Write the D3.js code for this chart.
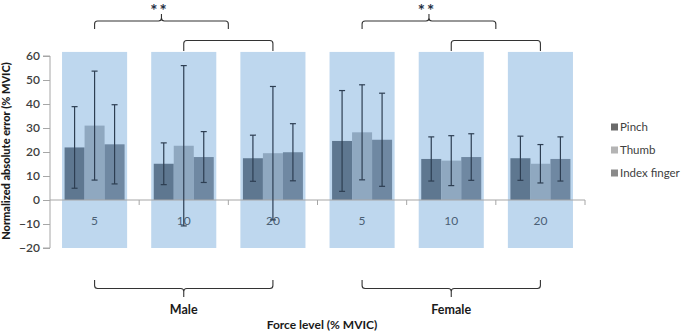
<!DOCTYPE html>
<html>
<head>
<meta charset="utf-8">
<script src="https://cdn.jsdelivr.net/npm/d3@7"></script>
<style>
  body { margin: 0; background: #fff; }
  text { font-family: Lato, "Open Sans", sans-serif; }
</style>
</head>
<body>
<svg id="chart" width="685" height="332"></svg>
<script>
'use strict';

// groups along the x axis (sex / force level)
var groups     = ["M5", "M10", "M20", "F5", "F10", "F20"];
var tickLabels = ["5", "10", "20", "5", "10", "20"];
var series     = ["Pinch", "Thumb", "Index finger"];

// mean normalized absolute error, one array per series
var pinch      = [21.9, 15.1, 17.4, 24.6, 17.1, 17.4];
var thumb      = [31.0, 22.6, 19.5, 28.2, 16.4, 15.1];
var index      = [23.2, 17.9, 19.9, 25.1, 17.9, 17.1];
// error bar half-lengths
var pinchErr   = [17.0,  8.7,  9.6, 21.0,  9.2,  9.2];
var thumbErr   = [22.7, 33.4, 27.8, 19.8, 10.4,  8.0];
var indexErr   = [16.5, 10.6, 11.9, 19.4,  9.7,  9.2];

var yTicks     = [-20, -10, 0, 10, 20, 30, 40, 50, 60];
var bgRange    = [-20, 61.7];   // shaded column behind each group

// significance brackets, in category units (centre of group i = i + 0.5)
var sigBrackets = [
    {from: 0.5, to: 2.0, level: 0, label: "**"},
    {from: 1.5, to: 2.5, level: 1, label: ""},
    {from: 3.5, to: 5.0, level: 0, label: "**"},
    {from: 4.5, to: 5.5, level: 1, label: ""}
];
var sexGroups = [
    {from: 0.5, to: 2.5, label: "Male"},
    {from: 3.5, to: 5.5, label: "Female"}
];

var values = [pinch, thumb, index];
var errors = [pinchErr, thumbErr, indexErr];
var barColors    = ["#5e7790", "#8fa8c0", "#6f88a2"];
var legendColors = ["#6a6a6a", "#b4b4b4", "#8a8a8a"];

var svg = d3.select("#chart");
var plotLeft = 50, plotRight = 585, plotTop = 56, plotBottom = 248;

var x = d3.scaleBand().domain(groups).range([plotLeft, plotRight]);
var catPos = d3.scaleLinear().domain([0, groups.length]).range([plotLeft, plotRight]);
var y = d3.scaleLinear().domain([-20, 60]).range([plotBottom, plotTop]);
var bgWidth = x.bandwidth() * 0.73;
var inner = d3.scaleBand().domain(series).range([-30, 30]);

// background columns
svg.append("g").selectAll("rect")
    .data(groups)
    .enter().append("rect")
        .attr("x", function(d){ return x(d) + x.bandwidth()/2 - bgWidth/2; })
        .attr("width", bgWidth)
        .attr("y", y(bgRange[1]))
        .attr("height", y(bgRange[0]) - y(bgRange[1]))
        .style("fill", "#bed7ee");

// y axis
var yAxis = d3.axisLeft(y).tickValues(yTicks).tickSize(7).tickPadding(3);
var ya = svg.append("g").attr("transform", "translate(" + plotLeft + ",0)").call(yAxis);
ya.select(".domain").attr("d", "M-7," + y(-20) + "H0V" + y(60) + "H-7").style("stroke", "#a6a6a6");
ya.selectAll(".tick line").style("stroke", "#a6a6a6");
ya.selectAll(".tick text").style("font-size", "12px").style("fill", "#404040")
    .style("font-family", "Lato, sans-serif").style("font-weight", "600");

// bars
series.forEach(function(s, si){
    var g = svg.append("g");
    g.selectAll("rect")
        .data(values[si])
        .enter().append("rect")
            .attr("x", function(d, i){ return x(groups[i]) + x.bandwidth()/2 + inner(s); })
            .attr("width", inner.bandwidth())
            .attr("y", function(d){ return y(d); })
            .attr("height", function(d){ return y(0) - y(d); })
            .style("fill", barColors[si]);
});

// x axis along zero, ticks at group boundaries
var xa = svg.append("g");
xa.append("line")
    .attr("x1", plotLeft).attr("x2", plotRight)
    .attr("y1", y(0)).attr("y2", y(0))
    .style("stroke", "#a6a6a6");
xa.selectAll("line.tk")
    .data(d3.range(1, groups.length + 1))
    .enter().append("line")
        .attr("class", "tk")
        .attr("x1", function(d){ return catPos(d); })
        .attr("x2", function(d){ return catPos(d); })
        .attr("y1", y(0)).attr("y2", y(0) + 5)
        .style("stroke", "#a6a6a6");
xa.selectAll("text")
    .data(tickLabels)
    .enter().append("text")
        .attr("x", function(d, i){ return x(groups[i]) + x.bandwidth()/2; })
        .attr("y", y(0) + 25)
        .attr("text-anchor", "middle")
        .style("font-size", "12px")
        .style("fill", "#4b5f75")
        .text(function(d){ return d; });

// error bars
series.forEach(function(s, si){
    var g = svg.append("g").style("stroke", "#2d3e52").style("stroke-width", 1.2);
    values[si].forEach(function(v, i){
        var cx = x(groups[i]) + x.bandwidth()/2 + inner(s) + inner.bandwidth()/2,
            hi = y(v + errors[si][i]),
            lo = y(v - errors[si][i]);
        g.append("line").attr("x1", cx).attr("x2", cx).attr("y1", hi).attr("y2", lo);
        g.append("line").attr("x1", cx - 3).attr("x2", cx + 3).attr("y1", hi).attr("y2", hi);
        g.append("line").attr("x1", cx - 3).attr("x2", cx + 3).attr("y1", lo).attr("y2", lo);
    });
});

// brace helper: horizontal at yb, legs towards yl, optional spike towards ys
function brace(x1, x2, yb, yl, ys) {
    var r = 3, d = yl > yb ? 1 : -1;
    var p = "M" + x1 + "," + yl + "V" + (yb + d*r) + "Q" + x1 + "," + yb + " " + (x1 + r) + "," + yb;
    if (ys !== null) {
        var xm = (x1 + x2) / 2;
        p += "H" + (xm - r) + "Q" + xm + "," + yb + " " + xm + "," + (yb - d*r) + "V" + ys +
             "M" + xm + "," + (yb - d*r) + "Q" + xm + "," + yb + " " + (xm + r) + "," + yb;
    }
    p += "H" + (x2 - r) + "Q" + x2 + "," + yb + " " + x2 + "," + (yb + d*r) + "V" + yl;
    return p;
}

var bg = svg.append("g");
sigBrackets.forEach(function(b){
    var x1 = catPos(b.from), x2 = catPos(b.to);
    var yb = b.level === 0 ? 21 : 40.5,
        yl = b.level === 0 ? 29 : 51;
    bg.append("path")
        .attr("d", brace(x1, x2, yb, yl, b.level === 0 ? 14 : null))
        .style("fill", "none").style("stroke", "#333").style("stroke-width", 1.1);
    if (b.label) {
        bg.append("text")
            .attr("x", (x1 + x2) / 2 - 2).attr("y", 17)
            .attr("text-anchor", "middle")
            .style("font-size", "17px").style("font-weight", "bold").style("fill", "#1f2f44")
            .style("letter-spacing", "2px")
            .text(b.label);
    }
});

sexGroups.forEach(function(b){
    var x1 = catPos(b.from), x2 = catPos(b.to);
    bg.append("path")
        .attr("d", brace(x1, x2, 288.5, 280, 297))
        .style("fill", "none").style("stroke", "#333").style("stroke-width", 1.1);
    bg.append("text")
        .attr("x", (x1 + x2) / 2).attr("y", 314)
        .attr("text-anchor", "middle")
        .style("font-size", "12.5px").style("font-weight", "bold").style("fill", "#1a1a1a")
        .text(b.label);
});

// axis titles
svg.append("text")
    .attr("x", 322).attr("y", 329)
    .attr("text-anchor", "middle")
    .style("font-size", "12px").style("font-weight", "bold").style("fill", "#1a1a1a")
    .text("Force level (% MVIC)");
svg.append("text")
    .attr("transform", "translate(10,151) rotate(-90)")
    .attr("text-anchor", "middle")
    .style("font-size", "11px").style("font-weight", "900").style("fill", "#1a1a1a")
    .text("Normalized absolute error (% MVIC)");

// legend
var lg = svg.append("g").attr("transform", "translate(614,127)");
series.forEach(function(s, si){
    var row = lg.append("g").attr("transform", "translate(0," + (si * 23) + ")");
    row.append("rect").attr("x", -3).attr("y", -3.5).attr("width", 7).attr("height", 7)
        .style("fill", legendColors[si]);
    row.append("text").attr("x", 6).attr("y", 4)
        .style("font-size", "11.5px").style("fill", "#404040")
        .text(s);
});
</script>
</body>
</html>
